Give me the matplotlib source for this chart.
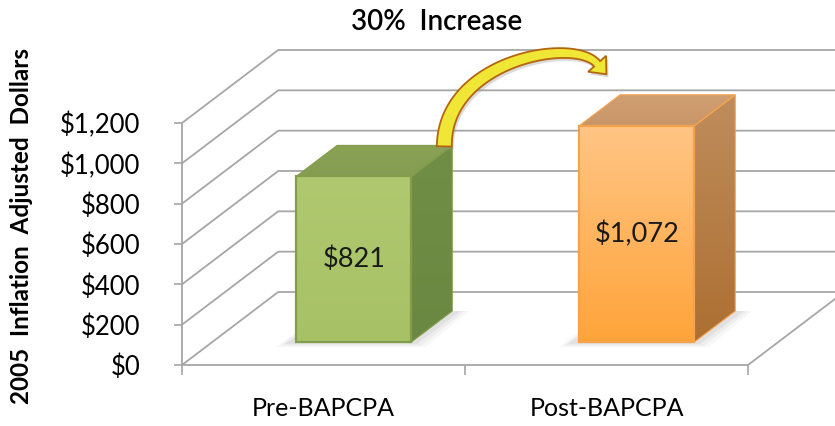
import numpy as np
import matplotlib
matplotlib.use("Agg")
import matplotlib.pyplot as plt
from matplotlib.patches import Polygon
from matplotlib.colors import LinearSegmentedColormap
from matplotlib.ticker import FuncFormatter

plt.rcParams["font.family"] = ["Lato", "DejaVu Sans"]

# data
categories = ["Pre-BAPCPA", "Post-BAPCPA"]
values = [821, 1072]
value_labels = ["$821", "$1,072"]
y_ticks = [0, 200, 400, 600, 800, 1000, 1200]
title = "30%  Increase"
y_label = "2005  Inflation  Adjusted  Dollars"

# fake 3D geometry (x in category units, y in dollars)
DX, DY = 0.34, 362          # full depth of the box
BAR_W = 0.407
Z0, Z1 = 0.315, 0.74        # bar front / back depth fraction
GRID = "#a6a6a6"

# pixel layout of the front plane
W, H = 835, 426
PX0, PX_UNIT = 182, 283
PY0, PX_PER_DOLLAR = 365, 242 / 1200

STYLES = [
    dict(front=("#b0c970", "#a7c166"), side=("#718e46", "#6a8841"),
         top=("#89a254", "#849d50"), edge="#829d4b"),
    dict(front=("#ffc585", "#ffa43a"), side=("#bf8d5c", "#ad6f32"),
         top=("#d09f70", "#c9966a"), edge="#f5a24d"),
]


def face(ax, verts, top_c, bot_c, edge, lw, z):
    verts = np.asarray(verts, dtype=float)
    patch = Polygon(verts, closed=True, facecolor="none", edgecolor=edge,
                    lw=lw, zorder=z + 0.1, joinstyle="miter")
    ax.add_patch(patch)
    cmap = LinearSegmentedColormap.from_list("g", [bot_c, top_c])
    x0, y0 = verts.min(axis=0)
    x1, y1 = verts.max(axis=0)
    im = ax.imshow(np.linspace(0, 1, 128).reshape(-1, 1), cmap=cmap, origin="lower",
                   extent=(x0, x1, y0, y1), aspect="auto", interpolation="bilinear", zorder=z)
    im.set_clip_path(patch)


def bar3d(ax, i, v, st):
    cx = i + 0.5
    xl, xr = cx - BAR_W / 2, cx + BAR_W / 2
    fx, fy = Z0 * DX, Z0 * DY
    bx, by = Z1 * DX, Z1 * DY

    # soft floor shadow
    for grow, a in [(0.05, 0.06), (0.035, 0.08), (0.02, 0.1)]:
        sh = [(xl - grow + fx - 0.02, fy - grow * 500), (xr + grow + fx, fy - grow * 500),
              (xr + grow + bx + 0.01, by), (xl - grow + bx, by)]
        ax.add_patch(Polygon(sh, closed=True, facecolor="#808080", edgecolor="none",
                             alpha=a, zorder=2))

    side = [(xr + fx, fy), (xr + bx, by), (xr + bx, by + v), (xr + fx, fy + v)]
    top = [(xl + fx, fy + v), (xr + fx, fy + v), (xr + bx, by + v), (xl + bx, by + v)]
    front = [(xl + fx, fy), (xr + fx, fy), (xr + fx, fy + v), (xl + fx, fy + v)]
    face(ax, side, *st["side"], st["edge"], 0.8, 3)
    face(ax, top, *st["top"], st["edge"], 0.8, 3)
    face(ax, front, *st["front"], st["edge"], 1.6, 4)
    return (xl + xr) / 2 + fx, fy + v / 2, (xr + bx, by + v), (xl + bx, by + v)


fig = plt.figure(figsize=(W / 100, H / 100), dpi=100)
fig.patch.set_facecolor("white")
ax = fig.add_axes([PX0 / W, (H - PY0) / H, (W - PX0) / W, PY0 / H])
ax.set_xlim(0, (W - PX0) / PX_UNIT)
ax.set_ylim(0, PY0 / PX_PER_DOLLAR)
ax.set_facecolor("none")

# walls and floor
for v in y_ticks:
    ax.plot([0, DX, 2 + DX], [v, v + DY, v + DY], color=GRID, lw=1.3, zorder=1,
            solid_capstyle="butt")
ax.plot([2, 2 + DX], [0, DY], color=GRID, lw=1.3, zorder=1)

corners = []
for i, (v, lab) in enumerate(zip(values, value_labels)):
    tx, ty, br, bl = bar3d(ax, i, v, STYLES[i])
    corners.append((br, bl))
    ax.text(tx, ty, lab, ha="center", va="center", fontsize=19.5, color="#1a1a1a", zorder=6)

# axes
for s in ("top", "right"):
    ax.spines[s].set_visible(False)
ax.spines["left"].set_bounds(0, 1200)
ax.spines["bottom"].set_bounds(0, 2)
for s in ("left", "bottom"):
    ax.spines[s].set_color(GRID)
    ax.spines[s].set_linewidth(1.3)
ax.set_yticks(y_ticks)
ax.yaxis.set_major_formatter(FuncFormatter(lambda v, _: f"${v:,.0f}"))
ax.tick_params(axis="y", direction="out", length=6, width=1.2, color=GRID, pad=24, labelsize=18.5)
ax.set_xticks([0, 1, 2])
ax.set_xticks([0.5, 1.5], minor=True)
ax.set_xticklabels(categories, minor=True)
ax.tick_params(axis="x", which="major", direction="out", length=7, width=1.2, color=GRID,
               labelbottom=False)
ax.tick_params(axis="x", which="minor", length=0, pad=23, labelsize=18)

# curved "increase" arrow, built in display pixels
to_px = ax.transData.transform
start = to_px(corners[0][0]) + np.array([-8, -1])
end = to_px(corners[1][1]) + np.array([-23, 31])
p0 = start
p1 = np.array([start[0], start[1] + 87])
p2 = np.array([end[0] - 22, end[1] + 27])
p3 = end
t = np.linspace(0, 1, 80)[:, None]
curve = (1 - t) ** 3 * p0 + 3 * (1 - t) ** 2 * t * p1 + 3 * (1 - t) * t ** 2 * p2 + t ** 3 * p3
tang = np.gradient(curve, axis=0)
tang /= np.linalg.norm(tang, axis=1)[:, None]
norm = np.column_stack([-tang[:, 1], tang[:, 0]])
half = (15 * (1 - t) + 8 * t) / 2
outer = curve + norm * half
inner = curve - norm * half
d = tang[-1]
n = norm[-1]
head = [p3 + n * 12, p3 + d * 14, p3 - n * 12]
verts = np.vstack([inner, head[2:], head[1:2], head[0:1], outer[::-1]])
shadow = Polygon(verts + np.array([2, -3]), closed=True, transform=None,
                 facecolor="#999999", edgecolor="none", alpha=0.35, zorder=9)
ax.add_patch(shadow)
arrow = Polygon(verts, closed=True, transform=None, facecolor="#efe636",
                edgecolor="#b5650f", lw=1.3, zorder=10, joinstyle="miter")
ax.add_patch(arrow)

fig.text(437 / W, 1 - 22 / H, title, ha="center", va="center", fontsize=20, weight="semibold")
fig.text(22 / W, 1 - 226 / H, y_label, ha="center", va="center", rotation=90,
         fontsize=17.5, weight="bold")

fig.savefig("out.png", dpi=100, facecolor="white")
